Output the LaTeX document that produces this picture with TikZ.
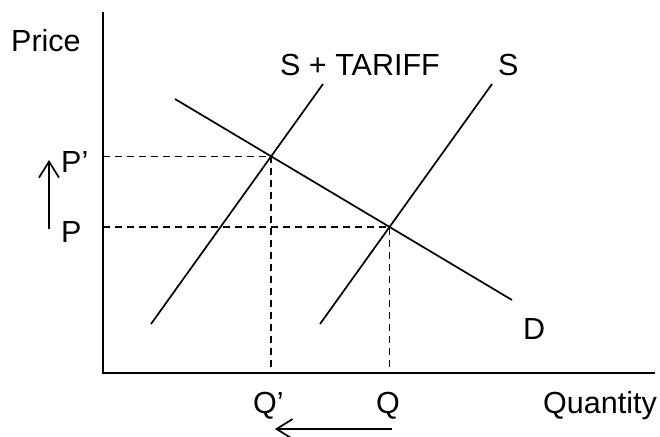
\documentclass[tikz,border=0pt]{standalone}
\usepackage{fontspec}
\setmainfont{Liberation Sans}
\usetikzlibrary{arrows.meta,intersections}
\begin{document}
\begin{tikzpicture}[x=1pt,y=-1pt,>={Straight Barb[length=16pt,width=20pt]},
  lbl/.style={inner sep=0pt,anchor=base west,font=\fontsize{30.5}{36}\selectfont},
  curve/.style={line width=1.7pt},
  guide/.style={line width=1.7pt,dash pattern=on 7pt off 5pt}]
\useasboundingbox (0,0) rectangle (660,436);
% axes
\coordinate (O) at (103,373);
\coordinate (ytop) at (103,12);
\coordinate (xend) at (655,373);
\draw[line width=2pt] (ytop) -- (O) -- (xend);
% supply and demand
\coordinate (st0) at (151,324);
\coordinate (st1) at (323,84);
\coordinate (s0) at (320,324);
\coordinate (s1) at (492,84);
\coordinate (d0) at (175,99);
\coordinate (d1) at (512,300);
\draw[curve,name path=tariff] (st0) -- (st1);
\draw[curve,name path=supply] (s0) -- (s1);
\draw[curve,name path=demand] (d0) -- (d1);
\path[name intersections={of=tariff and demand,by=E1}];
\path[name intersections={of=supply and demand,by=E0}];
\draw[guide] (O |- E1) -- (E1) -- (E1 |- O);
\draw[guide] (O |- E0) -- (E0) -- (E0 |- O);
% labels
\node[lbl] (price) at (11,52) {Price};
\node[lbl] (qty) at (543,413) {Quantity};
\node[lbl] (stlbl) at (280,75) {S + TARIFF};
\node[lbl] (slbl) at (498,75) {S};
\node[lbl] (dlbl) at (523,339) {D};
\node[lbl] (pnew) at (61,172) {P’};
\node[lbl] (pold) at (61,242) {P};
\node[lbl] (qnew) at (253,413) {Q’};
\node[lbl] (qold) at (376,413) {Q};
% shifts
\coordinate (up0) at (49,229);
\coordinate (up1) at (49,160);
\coordinate (lf0) at (392,429);
\coordinate (lf1) at (275,429);
\draw[->,line width=1.7pt] (up0) -- (up1);
\draw[->,line width=1.7pt] (lf0) -- (lf1);
\end{tikzpicture}
\end{document}
